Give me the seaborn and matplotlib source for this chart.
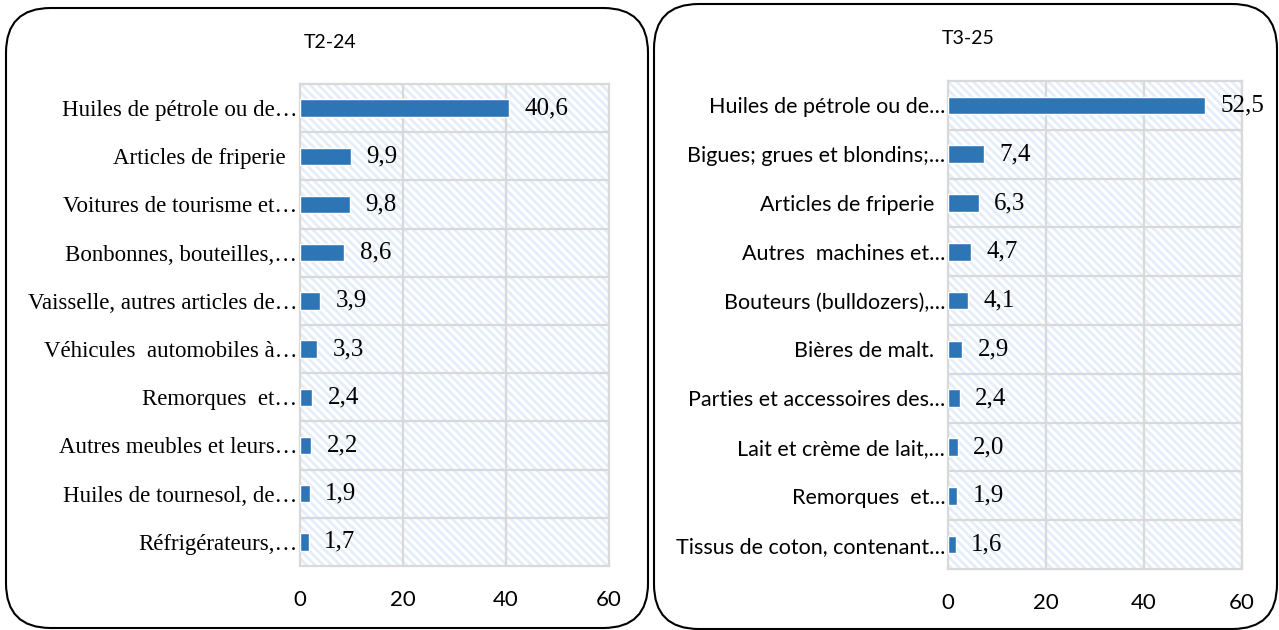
import matplotlib
matplotlib.use("Agg")
import matplotlib.pyplot as plt
import seaborn as sns
import pandas as pd
from matplotlib.patches import FancyBboxPatch, Rectangle

sns.set_theme(style="white")
plt.rcParams["hatch.linewidth"] = 2.0
plt.rcParams["text.color"] = "black"
plt.rcParams["xtick.color"] = "black"
plt.rcParams["ytick.color"] = "black"

title_left = "T2-24"
cats_left = ["Huiles de pétrole ou de…", "Articles de friperie  ", "Voitures de tourisme et…",
             "Bonbonnes, bouteilles,…", "Vaisselle, autres articles de…", "Véhicules  automobiles à…",
             "Remorques  et…", "Autres meubles et leurs…", "Huiles de tournesol, de…",
             "Réfrigérateurs,…"]
vals_left = [40.6, 9.9, 9.8, 8.6, 3.9, 3.3, 2.4, 2.2, 1.9, 1.7]

title_right = "T3-25"
cats_right = ["Huiles de pétrole ou de…", "Bigues; grues et blondins;…", "Articles de friperie  ",
              "Autres  machines et…", "Bouteurs (bulldozers),…", "Bières de malt.  ",
              "Parties et accessoires des…", "Lait et crème de lait,…", "Remorques  et…",
              "Tissus de coton, contenant…"]
vals_right = [52.5, 7.4, 6.3, 4.7, 4.1, 2.9, 2.4, 2.0, 1.9, 1.6]

xticks = [0, 20, 40, 60]

BAR = "#2E75B6"
GRID = "#D9D9D9"
HATCH = "#E4EDF8"

fig = plt.figure(figsize=(12.79, 6.30), dpi=100)
W, H = 1279, 630

def box(x0, y0, x1, y1):
    p = FancyBboxPatch((x0 / W, 1 - y1 / H), (x1 - x0) / W, (y1 - y0) / H,
                       boxstyle="round,pad=0,rounding_size=0.035",
                       transform=fig.transFigure, fill=False, edgecolor="black",
                       linewidth=1.5, mutation_aspect=W / H)
    fig.patches.append(p)

box(6, 8, 648, 628)
box(654, 4, 1277, 629)

def panel(rect, cats, vals, title, title_xy, tick_font, tick_size):
    ax = fig.add_axes(rect)
    df = pd.DataFrame({"cat": cats, "val": vals})
    bg = Rectangle((0, 0), 1, 1, transform=ax.transAxes, facecolor="white",
                   edgecolor=HATCH, hatch="\\" * 4, linewidth=0, zorder=0)
    ax.add_patch(bg)
    sns.barplot(data=df, y="cat", x="val", orient="h", color=BAR, width=0.36,
                saturation=1, ax=ax, zorder=3)
    ax.set_xlim(0, 60)
    ax.set_ylim(len(cats) - 0.5, -0.5)
    ax.set_xticks(xticks)
    ax.set_xticklabels([str(t) for t in xticks], fontsize=16, family="Lato", color="black")
    ax.set_yticks(range(len(cats)))
    ax.set_yticklabels(cats, fontsize=tick_size, family=tick_font, color="black")
    ax.set_yticks([i - 0.5 for i in range(1, len(cats))], minor=True)
    ax.tick_params(axis="both", which="both", length=0)
    ax.tick_params(axis="x", pad=17)
    ax.tick_params(axis="y", pad=2)
    ax.grid(axis="x", which="major", color=GRID, linewidth=1.6, zorder=1)
    ax.grid(axis="y", which="minor", color=GRID, linewidth=1.6, zorder=1)
    ax.grid(axis="y", which="major", visible=False)
    ax.set_axisbelow(True)
    for s in ax.spines.values():
        s.set_color(GRID)
        s.set_linewidth(1.6)
    ax.set_xlabel("")
    ax.set_ylabel("")
    for i, v in enumerate(vals):
        ax.annotate(f"{v:.1f}".replace(".", ","), (v, i), xytext=(11, 0),
                    textcoords="offset points", va="center", ha="left",
                    fontsize=18, family="Liberation Serif", color="black",
                    annotation_clip=False)
    fig.text(title_xy[0] / W, 1 - title_xy[1] / H, title, ha="center", va="center",
             fontsize=14, family="Lato", color="black")
    return ax

panel([300 / W, (H - 566) / H, 309 / W, 482 / H], cats_left, vals_left, title_left,
      (330, 43), "Liberation Serif", 16.5)
panel([948 / W, (H - 569) / H, 294 / W, 488 / H], cats_right, vals_right, title_right,
      (968, 39), "Lato", 15.5)

fig.savefig("out.png", dpi=100)
